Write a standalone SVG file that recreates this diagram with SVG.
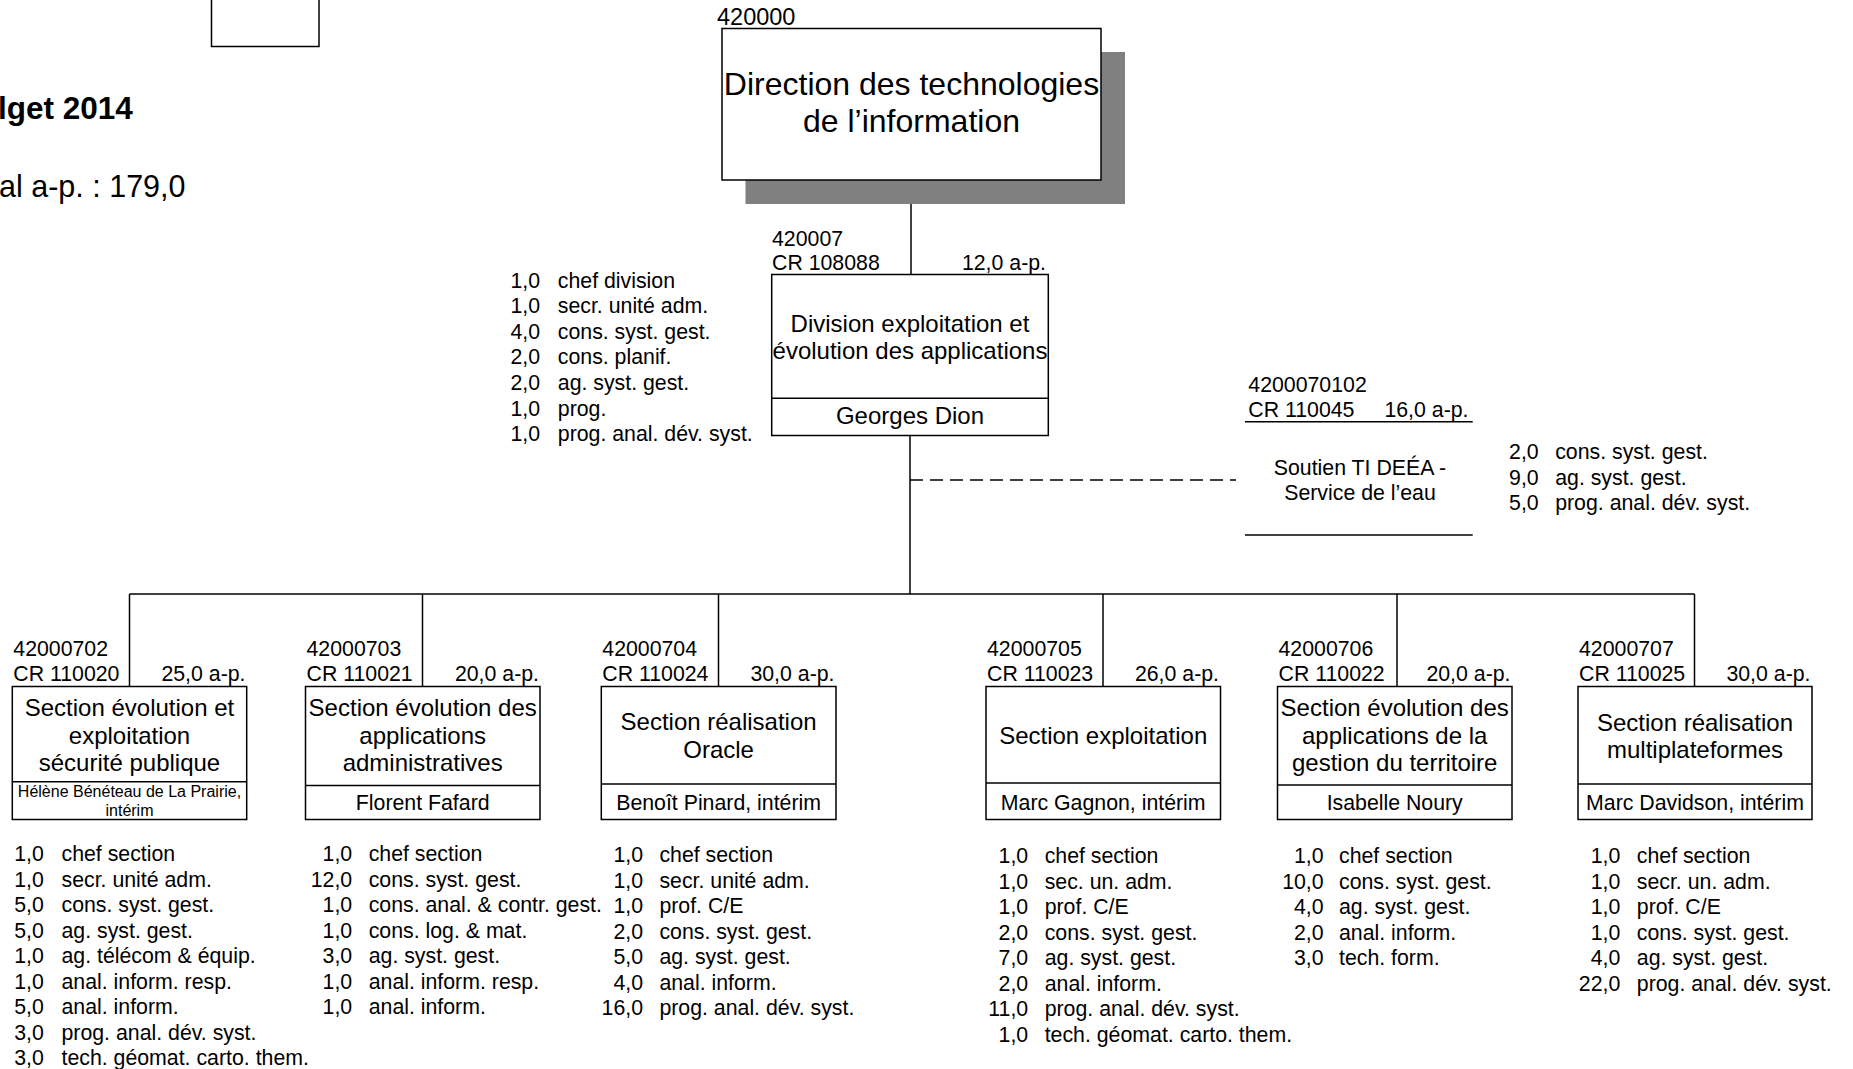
<svg xmlns="http://www.w3.org/2000/svg" width="1853" height="1069" viewBox="0 0 1853 1069">
<style>
text{font-family:"Liberation Sans",Arial,sans-serif;fill:#000}
.t8{font-size:21.3px}
.t9{font-size:24px}
.t6{font-size:16px}
.t12{font-size:32px}
.h{font-size:30.5px}
.b{font-weight:bold;font-size:31.5px}
.m{text-anchor:middle}
.e{text-anchor:end}
.box{fill:#fff;stroke:#000;stroke-width:1.5}
.ln{stroke:#000;stroke-width:1.5;fill:none}
.dash{stroke:#000;stroke-width:1.5;stroke-dasharray:13 7;fill:none}
</style>
<rect width="1853" height="1069" fill="#fff"/>

<g id="header">
<rect class="box" x="211.5" y="-5" width="107.5" height="51.5"/>
<text class="b" x="-2" y="119">lget 2014</text>
<text class="h" x="-1" y="196.5">al a-p. : 179,0</text>
</g>

<g id="connectors">
<line class="ln" x1="911" y1="180" x2="911" y2="274.5"/>
<line class="ln" x1="910" y1="435.5" x2="910" y2="594"/>
<line class="dash" x1="910" y1="480" x2="1236" y2="480"/>
<line class="ln" x1="129.5" y1="594" x2="1694.5" y2="594"/>
<line class="ln" x1="129.5" y1="594" x2="129.5" y2="686.5"/>
<line class="ln" x1="422.5" y1="594" x2="422.5" y2="686.5"/>
<line class="ln" x1="718.5" y1="594" x2="718.5" y2="686.5"/>
<line class="ln" x1="1103" y1="594" x2="1103" y2="686.5"/>
<line class="ln" x1="1397" y1="594" x2="1397" y2="686.5"/>
<line class="ln" x1="1694.5" y1="594" x2="1694.5" y2="686.5"/>
</g>

<g id="n420000">
<rect x="745.5" y="52" width="379.5" height="152" fill="#808080"/>
<rect class="box" x="722" y="28.5" width="379" height="151.5"/>
<text class="t9" x="717" y="24.5" style="font-size:23.5px">420000</text>
<text class="t12 m" x="911.5" y="95">Direction des technologies</text>
<text class="t12 m" x="911.5" y="132">de l’information</text>
</g>

<g id="n420007">
<text class="t8" x="772" y="245.5">420007</text>
<text class="t8" x="772" y="270">CR 108088</text>
<text class="t8 e" x="1046" y="270">12,0 a-p.</text>
<rect class="box" x="771.7" y="274.5" width="276.6" height="161"/>
<line class="ln" x1="771.7" y1="398.3" x2="1048.3" y2="398.3"/>
<text class="t9 m" x="910" y="331.7">Division exploitation et</text>
<text class="t9 m" x="910" y="359.3">évolution des applications</text>
<text class="t9 m" x="910" y="424">Georges Dion</text>
<g class="t8">
<text class="e" x="540" y="287.5">1,0</text><text x="557.8" y="287.5">chef division</text>
<text class="e" x="540" y="313.1">1,0</text><text x="557.8" y="313.1">secr. unité adm.</text>
<text class="e" x="540" y="338.7">4,0</text><text x="557.8" y="338.7">cons. syst. gest.</text>
<text class="e" x="540" y="364.3">2,0</text><text x="557.8" y="364.3">cons. planif.</text>
<text class="e" x="540" y="389.9">2,0</text><text x="557.8" y="389.9">ag. syst. gest.</text>
<text class="e" x="540" y="415.5">1,0</text><text x="557.8" y="415.5">prog.</text>
<text class="e" x="540" y="441.1">1,0</text><text x="557.8" y="441.1">prog. anal. dév. syst.</text>
</g>
</g>

<g id="n4200070102">
<text class="t8" x="1248.3" y="391.7">4200070102</text>
<text class="t8" x="1248.3" y="416.7">CR 110045</text>
<text class="t8 e" x="1468.5" y="416.7">16,0 a-p.</text>
<line class="ln" x1="1245" y1="421.7" x2="1472.7" y2="421.7"/>
<text class="t8 m" x="1360" y="474.5">Soutien TI DEÉA -</text>
<text class="t8 m" x="1360" y="500">Service de l’eau</text>
<line class="ln" x1="1245" y1="535" x2="1472.7" y2="535"/>
<g class="t8">
<text class="e" x="1538.7" y="459">2,0</text><text x="1555.2" y="459">cons. syst. gest.</text>
<text class="e" x="1538.7" y="484.5">9,0</text><text x="1555.2" y="484.5">ag. syst. gest.</text>
<text class="e" x="1538.7" y="510">5,0</text><text x="1555.2" y="510">prog. anal. dév. syst.</text>
</g>
</g>

<g id="n42000702">
<text class="t8" x="13.3" y="656">42000702</text>
<text class="t8" x="13.3" y="680.5">CR 110020</text>
<text class="t8 e" x="245.5" y="680.5">25,0 a-p.</text>
<rect class="box" x="12.3" y="686.5" width="234.4" height="133"/>
<line class="ln" x1="12.3" y1="781.7" x2="246.7" y2="781.7"/>
<text class="t9 m" x="129.5" y="716">Section évolution et</text>
<text class="t9 m" x="129.5" y="743.6">exploitation</text>
<text class="t9 m" x="129.5" y="771.2">sécurité publique</text>
<text class="t6 m" x="129.5" y="796.7">Hélène Bénéteau de La Prairie,</text>
<text class="t6 m" x="129.5" y="815.5">intérim</text>
<g class="t8">
<text class="e" x="43.8" y="861">1,0</text><text x="61.5" y="861">chef section</text>
<text class="e" x="43.8" y="886.5">1,0</text><text x="61.5" y="886.5">secr. unité adm.</text>
<text class="e" x="43.8" y="912">5,0</text><text x="61.5" y="912">cons. syst. gest.</text>
<text class="e" x="43.8" y="937.5">5,0</text><text x="61.5" y="937.5">ag. syst. gest.</text>
<text class="e" x="43.8" y="963">1,0</text><text x="61.5" y="963">ag. télécom &amp; équip.</text>
<text class="e" x="43.8" y="988.5">1,0</text><text x="61.5" y="988.5">anal. inform. resp.</text>
<text class="e" x="43.8" y="1014">5,0</text><text x="61.5" y="1014">anal. inform.</text>
<text class="e" x="43.8" y="1039.5">3,0</text><text x="61.5" y="1039.5">prog. anal. dév. syst.</text>
<text class="e" x="43.8" y="1065">3,0</text><text x="61.5" y="1065">tech. géomat. carto. them.</text>
</g>
</g>

<g id="n42000703">
<text class="t8" x="306.5" y="656">42000703</text>
<text class="t8" x="306.5" y="680.5">CR 110021</text>
<text class="t8 e" x="539" y="680.5">20,0 a-p.</text>
<rect class="box" x="305.5" y="686.5" width="234.5" height="133"/>
<line class="ln" x1="305.5" y1="785.5" x2="540" y2="785.5"/>
<text class="t9 m" x="422.7" y="716">Section évolution des</text>
<text class="t9 m" x="422.7" y="743.6">applications</text>
<text class="t9 m" x="422.7" y="771.2">administratives</text>
<text class="t8 m" x="422.7" y="809.5">Florent Fafard</text>
<g class="t8">
<text class="e" x="352.2" y="861">1,0</text><text x="368.7" y="861">chef section</text>
<text class="e" x="352.2" y="886.5">12,0</text><text x="368.7" y="886.5">cons. syst. gest.</text>
<text class="e" x="352.2" y="912">1,0</text><text x="368.7" y="912">cons. anal. &amp; contr. gest.</text>
<text class="e" x="352.2" y="937.5">1,0</text><text x="368.7" y="937.5">cons. log. &amp; mat.</text>
<text class="e" x="352.2" y="963">3,0</text><text x="368.7" y="963">ag. syst. gest.</text>
<text class="e" x="352.2" y="988.5">1,0</text><text x="368.7" y="988.5">anal. inform. resp.</text>
<text class="e" x="352.2" y="1014">1,0</text><text x="368.7" y="1014">anal. inform.</text>
</g>
</g>

<g id="n42000704">
<text class="t8" x="602.3" y="656">42000704</text>
<text class="t8" x="602.3" y="680.5">CR 110024</text>
<text class="t8 e" x="834.5" y="680.5">30,0 a-p.</text>
<rect class="box" x="601.3" y="686.5" width="234.7" height="133"/>
<line class="ln" x1="601.3" y1="784" x2="836" y2="784"/>
<text class="t9 m" x="718.6" y="730">Section réalisation</text>
<text class="t9 m" x="718.6" y="757.6">Oracle</text>
<text class="t8 m" x="718.6" y="809.5">Benoît Pinard, intérim</text>
<g class="t8">
<text class="e" x="643" y="862">1,0</text><text x="659.4" y="862">chef section</text>
<text class="e" x="643" y="887.5">1,0</text><text x="659.4" y="887.5">secr. unité adm.</text>
<text class="e" x="643" y="913">1,0</text><text x="659.4" y="913">prof. C/E</text>
<text class="e" x="643" y="938.5">2,0</text><text x="659.4" y="938.5">cons. syst. gest.</text>
<text class="e" x="643" y="964">5,0</text><text x="659.4" y="964">ag. syst. gest.</text>
<text class="e" x="643" y="989.5">4,0</text><text x="659.4" y="989.5">anal. inform.</text>
<text class="e" x="643" y="1015">16,0</text><text x="659.4" y="1015">prog. anal. dév. syst.</text>
</g>
</g>

<g id="n42000705">
<text class="t8" x="987" y="656">42000705</text>
<text class="t8" x="987" y="680.5">CR 110023</text>
<text class="t8 e" x="1219" y="680.5">26,0 a-p.</text>
<rect class="box" x="986" y="686.5" width="234.5" height="133"/>
<line class="ln" x1="986" y1="783" x2="1220.5" y2="783"/>
<text class="t9 m" x="1103.2" y="744">Section exploitation</text>
<text class="t8 m" x="1103.2" y="809.5">Marc Gagnon, intérim</text>
<g class="t8">
<text class="e" x="1028.2" y="863">1,0</text><text x="1044.7" y="863">chef section</text>
<text class="e" x="1028.2" y="888.5">1,0</text><text x="1044.7" y="888.5">sec. un. adm.</text>
<text class="e" x="1028.2" y="914">1,0</text><text x="1044.7" y="914">prof. C/E</text>
<text class="e" x="1028.2" y="939.5">2,0</text><text x="1044.7" y="939.5">cons. syst. gest.</text>
<text class="e" x="1028.2" y="965">7,0</text><text x="1044.7" y="965">ag. syst. gest.</text>
<text class="e" x="1028.2" y="990.5">2,0</text><text x="1044.7" y="990.5">anal. inform.</text>
<text class="e" x="1028.2" y="1016">11,0</text><text x="1044.7" y="1016">prog. anal. dév. syst.</text>
<text class="e" x="1028.2" y="1041.5">1,0</text><text x="1044.7" y="1041.5">tech. géomat. carto. them.</text>
</g>
</g>

<g id="n42000706">
<text class="t8" x="1278.5" y="656">42000706</text>
<text class="t8" x="1278.5" y="680.5">CR 110022</text>
<text class="t8 e" x="1510.5" y="680.5">20,0 a-p.</text>
<rect class="box" x="1277.5" y="686.5" width="234.5" height="133"/>
<line class="ln" x1="1277.5" y1="785" x2="1512" y2="785"/>
<text class="t9 m" x="1394.7" y="716">Section évolution des</text>
<text class="t9 m" x="1394.7" y="743.6">applications de la</text>
<text class="t9 m" x="1394.7" y="771.2">gestion du territoire</text>
<text class="t8 m" x="1394.7" y="809.5">Isabelle Noury</text>
<g class="t8">
<text class="e" x="1323.6" y="863">1,0</text><text x="1339" y="863">chef section</text>
<text class="e" x="1323.6" y="888.5">10,0</text><text x="1339" y="888.5">cons. syst. gest.</text>
<text class="e" x="1323.6" y="914">4,0</text><text x="1339" y="914">ag. syst. gest.</text>
<text class="e" x="1323.6" y="939.5">2,0</text><text x="1339" y="939.5">anal. inform.</text>
<text class="e" x="1323.6" y="965">3,0</text><text x="1339" y="965">tech. form.</text>
</g>
</g>

<g id="n42000707">
<text class="t8" x="1579" y="656">42000707</text>
<text class="t8" x="1579" y="680.5">CR 110025</text>
<text class="t8 e" x="1810.5" y="680.5">30,0 a-p.</text>
<rect class="box" x="1578" y="686.5" width="234" height="133"/>
<line class="ln" x1="1578" y1="784" x2="1812" y2="784"/>
<text class="t9 m" x="1695" y="730.5">Section réalisation</text>
<text class="t9 m" x="1695" y="758.1">multiplateformes</text>
<text class="t8 m" x="1695" y="809.5">Marc Davidson, intérim</text>
<g class="t8">
<text class="e" x="1620.3" y="863">1,0</text><text x="1636.8" y="863">chef section</text>
<text class="e" x="1620.3" y="888.5">1,0</text><text x="1636.8" y="888.5">secr. un. adm.</text>
<text class="e" x="1620.3" y="914">1,0</text><text x="1636.8" y="914">prof. C/E</text>
<text class="e" x="1620.3" y="939.5">1,0</text><text x="1636.8" y="939.5">cons. syst. gest.</text>
<text class="e" x="1620.3" y="965">4,0</text><text x="1636.8" y="965">ag. syst. gest.</text>
<text class="e" x="1620.3" y="990.5">22,0</text><text x="1636.8" y="990.5">prog. anal. dév. syst.</text>
</g>
</g>
</svg>
